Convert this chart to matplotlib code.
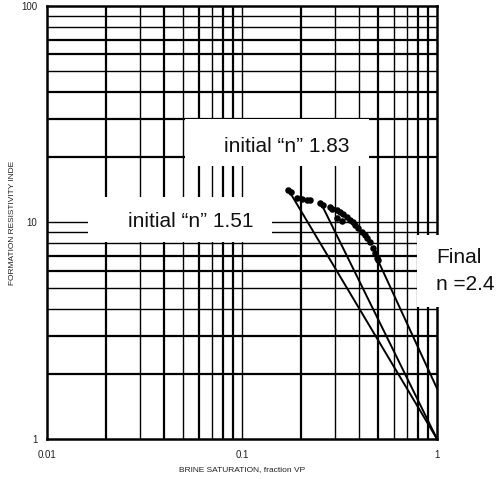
"""Resistivity index vs brine saturation on log-log paper, with saturation exponent lines."""
import matplotlib

matplotlib.use("Agg")
import matplotlib.pyplot as plt
import numpy as np
from matplotlib.patches import Rectangle

plt.rcParams["font.family"] = ["Liberation Sans", "DejaVu Sans"]

# measured points: brine saturation (fraction VP) and resistivity index
sat = [0.172, 0.178, 0.191, 0.202, 0.215, 0.223, 0.251, 0.261, 0.283, 0.288,
       0.306, 0.318, 0.331, 0.306, 0.324, 0.344, 0.358, 0.372, 0.379, 0.394,
       0.411, 0.428, 0.435, 0.453, 0.471, 0.481, 0.491, 0.497]
ri = [14.1, 13.8, 13.0, 12.8, 12.7, 12.7, 12.3, 12.0, 11.8, 11.6,
      11.4, 11.2, 11.0, 10.5, 10.2, 10.6, 10.3, 10.1, 9.73, 9.40,
      9.07, 8.75, 8.45, 8.15, 7.60, 7.21, 6.83, 6.71]

# initial exponent lines I = Sw^-n, drawn from the first points down to (1, 1)
n_initial = [1.51, 1.83]
sat_start = [0.172, 0.255]

# final trend from the end of the data to Sw = 1
final_sat = [0.497, 1.0]
final_ri = [6.71, 1.71]

# grid lines drawn heavier on this paper
x_heavy = [0.02, 0.04, 0.06, 0.08, 0.09, 0.2, 0.5, 0.8, 0.9]
y_heavy = [2, 3, 6, 7, 20, 30, 40, 60, 70]


def _heavy(v, heavy):
    return any(np.isclose(v, h) for h in heavy)


def main() -> None:
    fig = plt.figure(figsize=(5.02, 4.79), dpi=100)
    ax = fig.add_axes([0.0936, 0.0835, 0.777, 0.904])
    ax.set_xscale("log")
    ax.set_yscale("log")
    ax.set_xlim(0.01, 1)
    ax.set_ylim(1, 100)

    decades_x = np.outer(np.arange(2, 10), [0.01, 0.1]).T.ravel()
    decades_y = np.outer(np.arange(2, 10), [1, 10]).T.ravel()
    for v in list(decades_x) + [0.1]:
        lw = 1.6 if _heavy(v, x_heavy) else 1.0
        ax.axvline(v, color="black", lw=lw, zorder=1)
    for v in list(decades_y) + [10]:
        lw = 1.6 if _heavy(v, y_heavy) else 1.0
        ax.axhline(v, color="black", lw=lw, zorder=1)

    for s in ax.spines.values():
        s.set_linewidth(1.8)
        s.set_zorder(2)

    ax.set_xticks([0.01, 0.1, 1])
    ax.set_xticklabels(["0.01", "0.1", "1"])
    ax.set_yticks([1, 10, 100])
    ax.set_yticklabels(["1", "10", "100"])
    ax.minorticks_off()
    ax.tick_params(length=0, labelsize=7, colors="#222222")
    ax.tick_params(axis="x", pad=8)
    ax.tick_params(axis="y", pad=7)

    ax.set_xlabel("BRINE SATURATION, fraction VP", fontsize=6, color="#222222", labelpad=4)
    ax.set_ylabel("FORMATION RESISTIVITY INDE", fontsize=6, color="#222222", labelpad=4)

    # white label panels laid over the grid
    panels = [(0.354, 0.630, 0.472, 0.109),
              (0.105, 0.455, 0.472, 0.104),
              (0.949, 0.305, 0.21, 0.166)]
    for x0, y0, w, h in panels:
        ax.add_patch(Rectangle((x0, y0), w, h, transform=ax.transAxes,
                               facecolor="white", edgecolor="none",
                               zorder=3, clip_on=False))

    text_kw = dict(transform=ax.transAxes, fontsize=15, color="#111111",
                   va="baseline", ha="left", zorder=4, clip_on=False)
    ax.text(0.454, 0.663, f"initial \u201cn\u201d {n_initial[1]:.2f}", **text_kw)
    ax.text(0.2077, 0.490, f"initial \u201cn\u201d {n_initial[0]:.2f}", **text_kw)
    ax.text(0.997, 0.406, "Final", **text_kw)
    ax.text(0.997, 0.344, "n =2.4", **text_kw)

    for n, x0 in zip(n_initial, sat_start):
        xs = np.array([x0, 1.0])
        ax.plot(xs, xs ** -n, color="black", lw=1.4, zorder=5)
    ax.plot(final_sat, final_ri, color="black", lw=1.4, zorder=5)
    ax.scatter(sat, ri, s=22, color="black", zorder=6, linewidths=0)

    fig.savefig("out.png", dpi=100)
    plt.close(fig)


if __name__ == "__main__":
    main()
